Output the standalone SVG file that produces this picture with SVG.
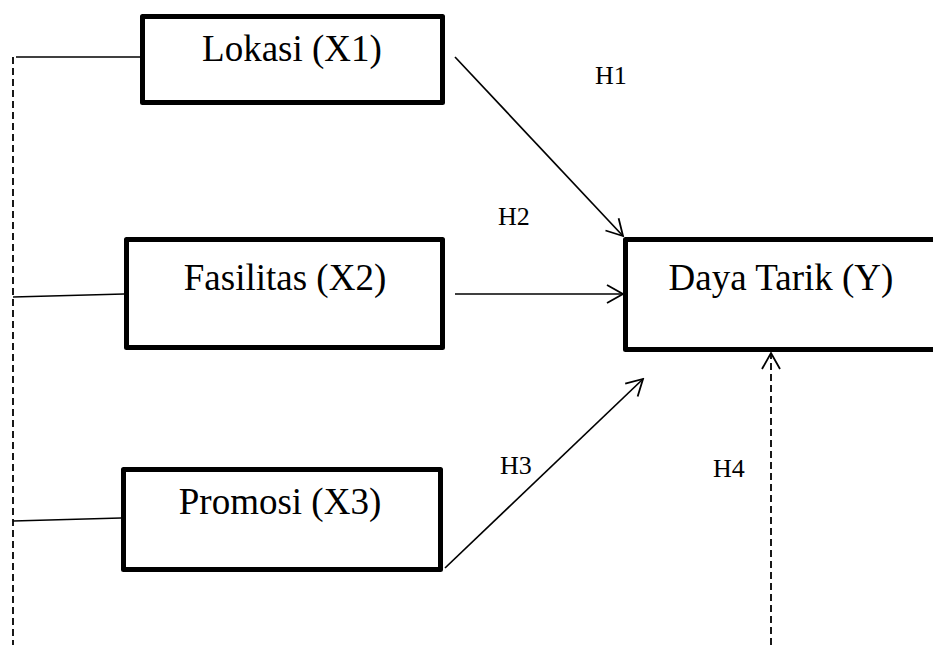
<svg xmlns="http://www.w3.org/2000/svg" width="933" height="645" viewBox="0 0 933 645">
<style>
.box{fill:#fff;stroke:#000;stroke-width:5;stroke-linejoin:round}
.lbl{font-family:"Liberation Serif","Times New Roman",serif;font-size:37px;fill:#000;text-anchor:middle}
.hyp{font-family:"Liberation Serif","Times New Roman",serif;font-size:26px;fill:#000}
.ln{fill:none;stroke:#000;stroke-width:1.7}
.dash{fill:none;stroke:#000;stroke-width:1.8;stroke-dasharray:7 4}
</style>
<defs>
<marker id="ah" markerUnits="userSpaceOnUse" markerWidth="20" markerHeight="20" viewBox="-18 -10 20 20" refX="0" refY="0" orient="auto">
<path d="M-16,-9 L0,0 L-16,9" fill="none" stroke="#000" stroke-width="1.8"/>
</marker>
</defs>
<rect width="933" height="645" fill="#fff"/>
<g id="connectors">
<line class="dash" x1="13" y1="57" x2="13" y2="645"/>
<line class="ln" x1="16" y1="57" x2="140" y2="57"/>
<line class="ln" x1="13" y1="297" x2="124" y2="294"/>
<line class="ln" x1="13" y1="521" x2="121" y2="518"/>
<line class="ln" x1="455" y1="57" x2="623" y2="236" marker-end="url(#ah)"/>
<line class="ln" x1="455" y1="294" x2="623" y2="294" marker-end="url(#ah)"/>
<line class="ln" x1="445" y1="568" x2="643" y2="379" marker-end="url(#ah)"/>
<line class="dash" x1="771" y1="645" x2="771" y2="353" marker-end="url(#ah)"/>
<text class="hyp" font-family="Liberation Serif, serif" font-size="26" x="595" y="84">H1</text>
<text class="hyp" font-family="Liberation Serif, serif" font-size="26" x="498" y="225">H2</text>
<text class="hyp" font-family="Liberation Serif, serif" font-size="26" x="500" y="474">H3</text>
<text class="hyp" font-family="Liberation Serif, serif" font-size="26" x="713" y="477">H4</text>
</g>
<g id="lokasi">
<rect class="box" x="142.5" y="16.5" width="300" height="86"/>
<text class="lbl" x="292" y="61">Lokasi (X1)</text>
</g>
<g id="fasilitas">
<rect class="box" x="126.5" y="239.5" width="316" height="108"/>
<text class="lbl" x="285" y="290">Fasilitas (X2)</text>
</g>
<g id="promosi">
<rect class="box" x="123.5" y="469.5" width="317" height="100"/>
<text class="lbl" x="280" y="514">Promosi (X3)</text>
</g>
<g id="daya">
<rect class="box" x="625.5" y="239.5" width="310" height="110"/>
<text class="lbl" x="781" y="290">Daya Tarik (Y)</text>
</g>
</svg>
